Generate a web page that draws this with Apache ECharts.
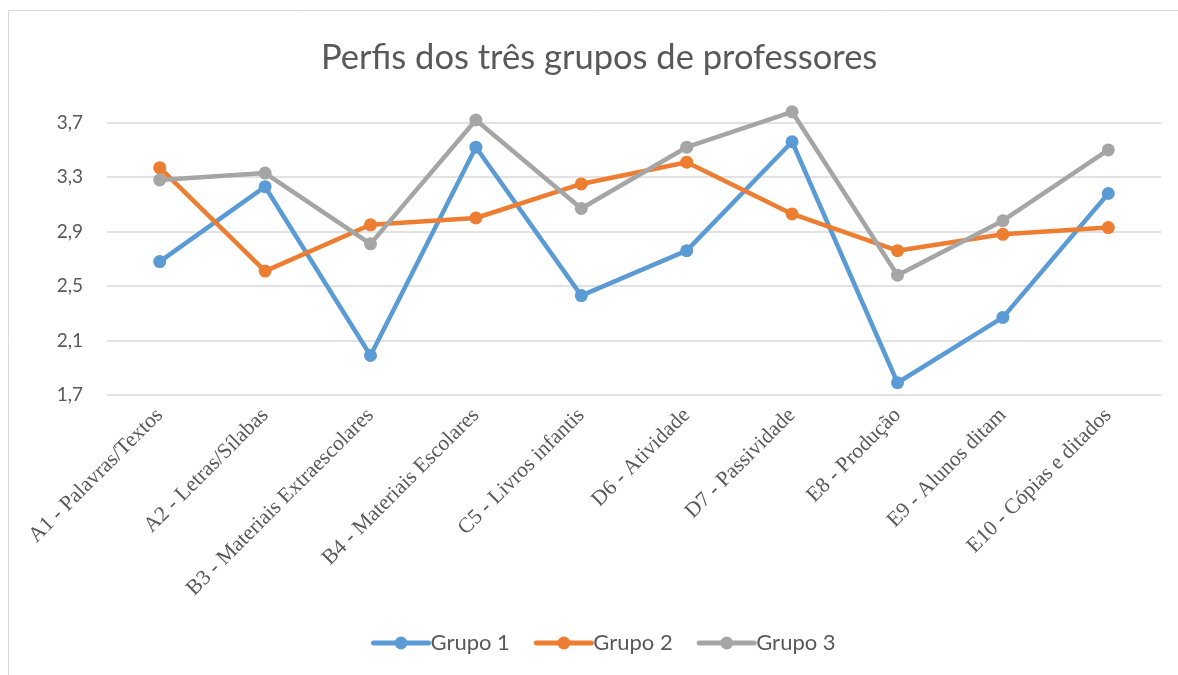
<!DOCTYPE html>
<html>
<head>
<meta charset="utf-8">
<script src="https://cdn.jsdelivr.net/npm/echarts@6/dist/echarts.min.js"></script>
<style>html,body{margin:0;padding:0;background:#fff}#c{width:1178px;height:675px}</style>
</head>
<body>
<div id="c"></div>
<script>
const categories = ["A1 - Palavras/Textos","A2 - Letras/Sílabas","B3 - Materiais Extraescolares","B4 - Materiais Escolares","C5 - Livros infantis","D6 - Atividade","D7 - Passividade","E8 - Produção","E9 - Alunos ditam","E10 - Cópias e ditados"];
const grupo1 = [2.68, 3.23, 1.99, 3.52, 2.43, 2.76, 3.56, 1.79, 2.27, 3.18];
const grupo2 = [3.37, 2.61, 2.95, 3.00, 3.25, 3.41, 3.03, 2.76, 2.88, 2.93];
const grupo3 = [3.28, 3.33, 2.81, 3.72, 3.07, 3.52, 3.78, 2.58, 2.98, 3.50];
const seriesNames = ["Grupo 1","Grupo 2","Grupo 3"];
const colors = ["#5B9BD5","#ED7D31","#A5A5A5"];

const chart = echarts.init(document.getElementById('c'));
const mk = (name, data, color) => ({
  name, type: 'line', data, clip: false,
  symbol: 'circle', symbolSize: 13,
  lineStyle: {width: 4.5, color, cap: 'round'},
  itemStyle: {color},
  emphasis: {disabled: true}
});
chart.setOption({
  animation: false,
  color: colors,
  graphic: [{type:'rect', shape:{x:8.5,y:10.5,width:1200,height:700}, style:{fill:'none', stroke:'#D9D9D9', lineWidth:1}, silent:true}],
  title: {
    text: 'Perfis dos três grupos de professores',
    left: 316, top: 35,
    textStyle: {fontFamily: 'Lato', fontSize: 34.5, fontWeight: 'normal', color: '#595959'}
  },
  legend: {
    top: 627, left: 366,
    itemWidth: 55, itemHeight: 16, itemGap: 24,
    lineStyle: {width: 5, cap: 'round'},
    textStyle: {fontFamily: 'Lato', fontSize: 22, color: '#595959', padding: [0, 0, 0, -3]},
    data: seriesNames
  },
  grid: {left: 107, right: 17, top: 122.7, bottom: 675 - 395},
  xAxis: {
    type: 'category', data: categories, boundaryGap: true,
    axisLine: {show: false}, axisTick: {show: false},
    axisLabel: {rotate: 45, margin: 17, interval: 0, fontFamily: 'Liberation Serif', fontSize: 21.5, color: '#595959'}
  },
  yAxis: {
    type: 'value', min: 1.7, max: 3.7, interval: 0.4,
    axisLine: {show: false}, axisTick: {show: false},
    splitLine: {lineStyle: {color: '#D9D9D9', width: 1.5}},
    axisLabel: {margin: 24, fontFamily: 'Lato', fontSize: 19, color: '#595959', formatter: v => v.toFixed(1).replace('.', ',')}
  },
  series: [mk(seriesNames[0], grupo1, colors[0]), mk(seriesNames[1], grupo2, colors[1]), mk(seriesNames[2], grupo3, colors[2])]
});
</script>
</body>
</html>
